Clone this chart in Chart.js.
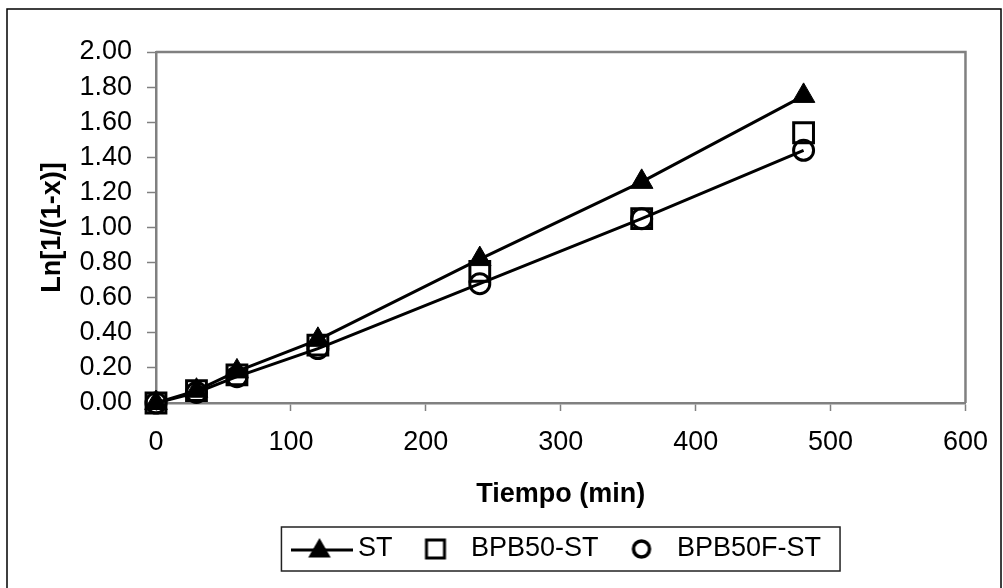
<!DOCTYPE html>
<html>
<head>
<meta charset="utf-8">
<script src="https://cdn.jsdelivr.net/npm/chart.js@4.4.0/dist/chart.umd.min.js"></script>
<style>
  html, body { margin: 0; padding: 0; background: #fff; }
  #wrap { width: 1003px; height: 588px; position: relative; }
  canvas { display: block; }
</style>
</head>
<body>
<div id="wrap"><canvas id="c" width="1003" height="588"></canvas></div>
<script>
// Sampling times (min)
const tiempo = [0, 30, 60, 120, 240, 360, 480];
// Ln[1/(1-x)] for each formulation
const serieST = [0, 0.07, 0.18, 0.36, 0.82, 1.26, 1.75];
const serieBPB50 = [0, 0.07, 0.16, 0.33, 0.75, 1.05, 1.54];
const serieBPB50F = [0, 0.06, 0.15, 0.31, 0.68, 1.05, 1.44];
// Series names
const nombres = ['ST', 'BPB50-ST', 'BPB50F-ST'];
// Axis tick values
const xTicks = [0, 100, 200, 300, 400, 500, 600];
const yTicks = [0, 0.2, 0.4, 0.6, 0.8, 1.0, 1.2, 1.4, 1.6, 1.8, 2.0];

const FONT = 'Liberation Sans, Arial, sans-serif';
const FS = 27;
const GRIS = '#808080';

const puntos = (ys) => tiempo.map((t, i) => ({ x: t, y: ys[i] }));

// Small canvases used as legend icons
function iconCanvas(w, h, draw) {
  const c = document.createElement('canvas');
  c.width = w; c.height = h;
  const g = c.getContext('2d');
  draw(g, w, h);
  return c;
}
const iconST = iconCanvas(62, 26, (g, w, h) => {
  g.strokeStyle = '#000'; g.lineWidth = 3;
  g.beginPath(); g.moveTo(0, h / 2 + 1); g.lineTo(w, h / 2 + 1); g.stroke();
  const cx = w / 2 - 3, cy = h / 2 + 2, r = 13;
  g.fillStyle = '#000';
  g.beginPath();
  g.moveTo(cx, cy - r);
  g.lineTo(cx + r * Math.sqrt(3) / 2, cy + r / 2);
  g.lineTo(cx - r * Math.sqrt(3) / 2, cy + r / 2);
  g.closePath(); g.fill();
});
const iconSq = iconCanvas(24, 24, (g) => {
  g.strokeStyle = '#000'; g.lineWidth = 3;
  g.strokeRect(3, 3, 18, 18);
});
const iconCi = iconCanvas(24, 24, (g) => {
  g.strokeStyle = '#000'; g.lineWidth = 3.5;
  g.beginPath(); g.arc(12, 12, 8, 0, Math.PI * 2); g.stroke();
});
const iconos = [iconST, iconSq, iconCi];

// Page background, plot frame and outer border
const marcos = {
  id: 'marcos',
  beforeDraw(chart) {
    const ctx = chart.ctx;
    ctx.save();
    ctx.fillStyle = '#fff';
    ctx.fillRect(0, 0, chart.width, chart.height);
    ctx.restore();
  },
  beforeDatasetsDraw(chart) {
    const { ctx, chartArea: a } = chart;
    ctx.save();
    ctx.strokeStyle = GRIS; ctx.lineWidth = 2.5;
    ctx.beginPath();
    ctx.moveTo(a.left, a.top); ctx.lineTo(a.right, a.top); ctx.lineTo(a.right, a.bottom);
    ctx.stroke();
    ctx.restore();
  },
  afterDraw(chart) {
    const ctx = chart.ctx;
    ctx.save();
    ctx.strokeStyle = '#000'; ctx.lineWidth = 1.5;
    ctx.strokeRect(7, 9, 994, 620);
    // legend frame
    const hb = chart.legend.legendHitBoxes;
    if (hb && hb.length) {
      const l = Math.min(...hb.map(h => h.left)) - 19;
      const r = Math.max(...hb.map(h => h.left + h.width)) + 19;
      const t = hb[0].top - 8.5;
      const b = hb[0].top + hb[0].height + 8.5;
      ctx.strokeStyle = '#222'; ctx.lineWidth = 1.5;
      ctx.strokeRect(l, t, r - l, b - t);
    }
    ctx.restore();
  }
};

new Chart(document.getElementById('c'), {
  type: 'scatter',
  data: {
    datasets: [
      {
        label: nombres[0], data: puntos(serieST), showLine: true, tension: 0,
        borderColor: '#000', borderWidth: 3,
        pointStyle: 'triangle', pointRadius: 13, pointHoverRadius: 13,
        pointBackgroundColor: '#000', pointBorderColor: '#000', pointBorderWidth: 1,
        clip: false
      },
      {
        label: nombres[1], data: puntos(serieBPB50), showLine: false,
        pointStyle: 'rect', pointRadius: 14, pointHoverRadius: 14,
        pointBackgroundColor: 'rgba(0,0,0,0)', pointBorderColor: '#000', pointBorderWidth: 3,
        clip: false
      },
      {
        label: nombres[2], data: puntos(serieBPB50F), showLine: true, tension: 0,
        borderColor: '#000', borderWidth: 3,
        pointStyle: 'circle', pointRadius: 10, pointHoverRadius: 10,
        pointBackgroundColor: 'rgba(0,0,0,0)', pointBorderColor: '#000', pointBorderWidth: 3,
        clip: false
      }
    ]
  },
  options: {
    responsive: false,
    animation: false,
    devicePixelRatio: 1,
    layout: { padding: { top: 52, right: 33, bottom: 15.5, left: 0 } },
    plugins: {
      tooltip: { enabled: false },
      legend: {
        position: 'bottom',
        fullSize: false,
        labels: {
          usePointStyle: true,
          pointStyleWidth: 44,
          padding: 21,
          color: '#000',
          font: { family: FONT, size: FS },
          generateLabels: (chart) => chart.data.datasets.map((ds, i) => ({
            text: ds.label, pointStyle: iconos[i], fillStyle: '#000', strokeStyle: '#000',
            lineWidth: 0, hidden: false, datasetIndex: i, fontColor: '#000'
          }))
        }
      }
    },
    scales: {
      x: {
        type: 'linear', min: 0, max: 600,
        afterBuildTicks: (s) => { s.ticks = xTicks.map(v => ({ value: v })); },
        afterFit: (s) => { s.height = 111.5; },
        grid: { drawOnChartArea: false, drawTicks: true, tickLength: 8, tickColor: GRIS, tickWidth: 1.5 },
        border: { display: true, color: GRIS, width: 2.5 },
        ticks: { autoSkip: false, color: '#000', padding: 15, maxRotation: 0, font: { family: FONT, size: FS }, callback: (v) => String(v) },
        title: { display: true, text: 'Tiempo (min)', color: '#000', padding: { top: 0, bottom: 4 }, font: { family: FONT, size: FS, weight: 'bold' } }
      },
      y: {
        type: 'linear', min: 0, max: 2,
        afterBuildTicks: (s) => { s.ticks = yTicks.map(v => ({ value: v })); },
        afterFit: (s) => { s.width = 156; },
        grid: { drawOnChartArea: false, drawTicks: true, tickLength: 9, tickColor: GRIS, tickWidth: 1.5 },
        border: { display: true, color: GRIS, width: 2.5 },
        ticks: { autoSkip: false, color: '#000', padding: 15, font: { family: FONT, size: FS }, callback: (v) => Number(v).toFixed(2) },
        title: { display: true, text: 'Ln[1/(1-x)]', color: '#000', padding: { top: 36, bottom: 0 }, font: { family: FONT, size: FS, weight: 'bold' } }
      }
    }
  },
  plugins: [marcos]
});
</script>
</body>
</html>
